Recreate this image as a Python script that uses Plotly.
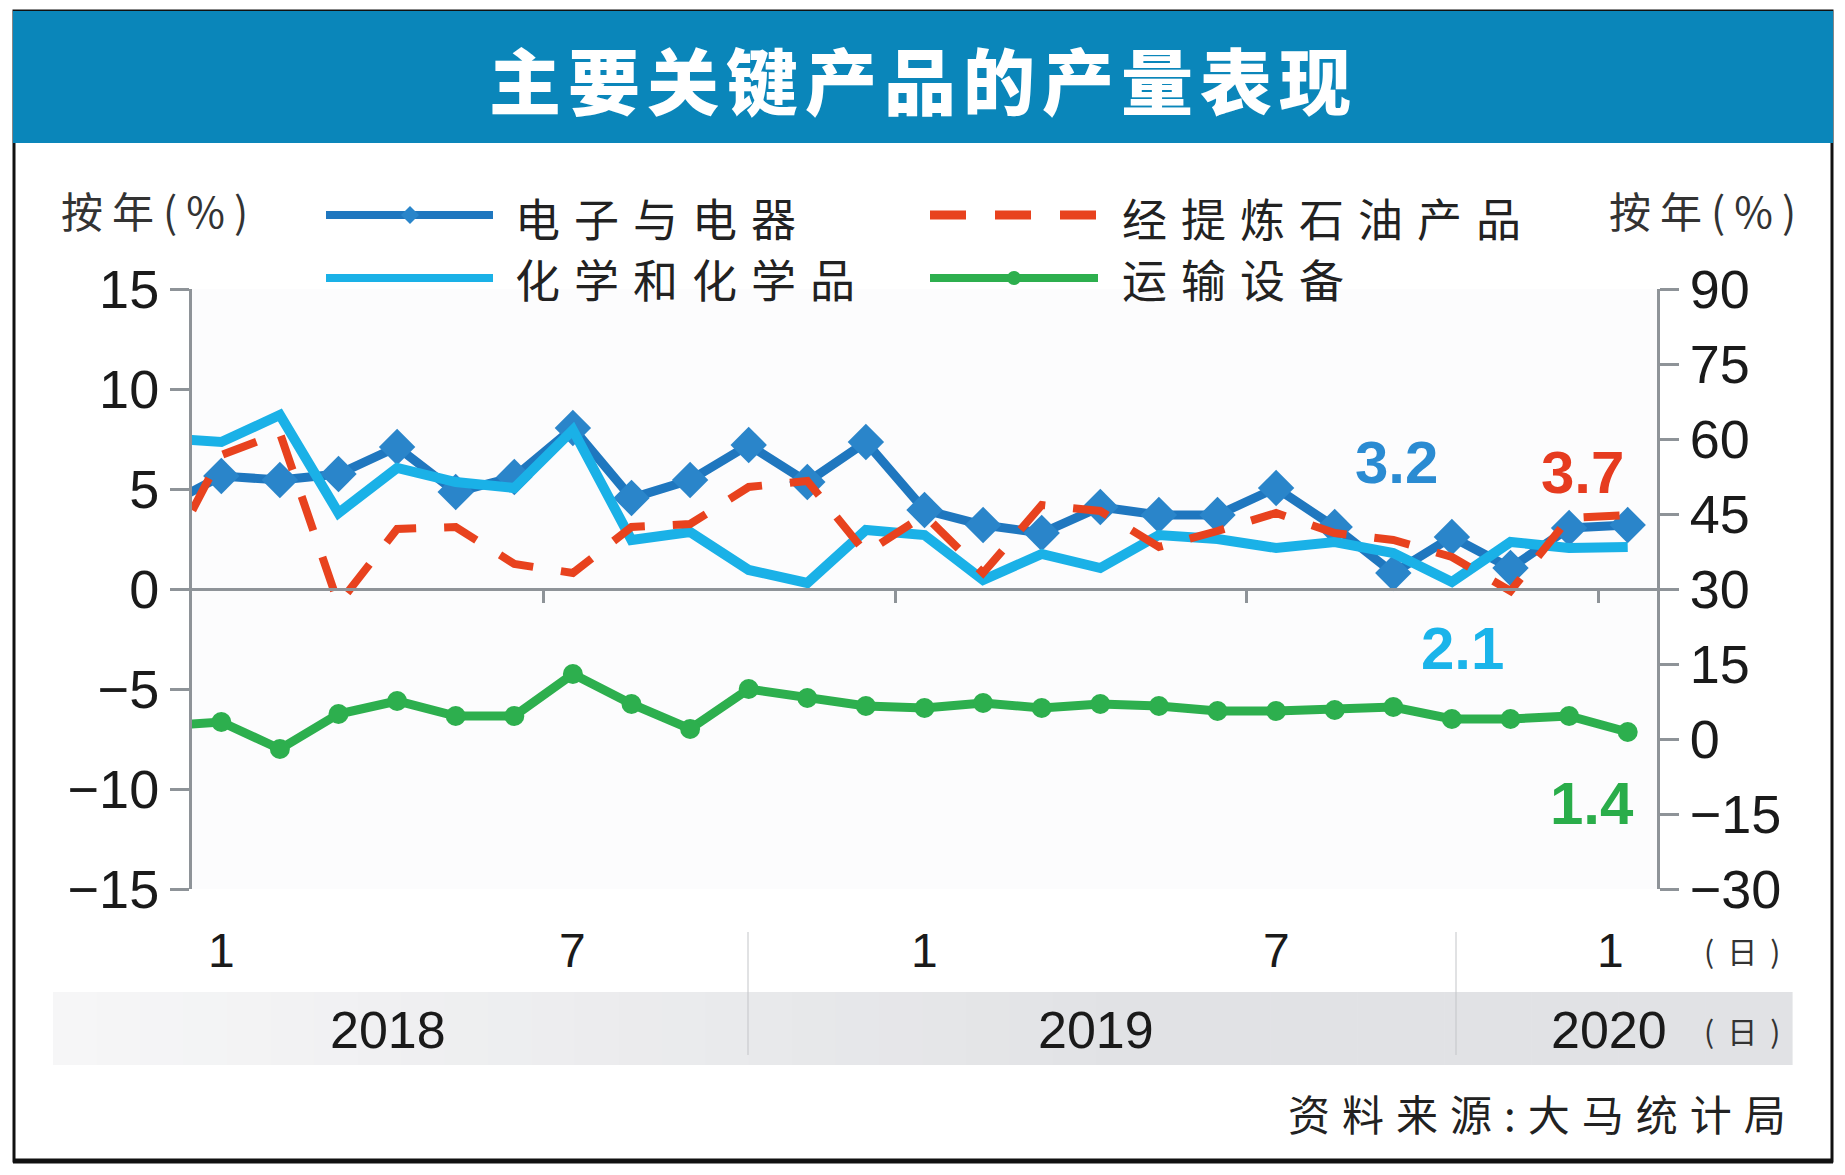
import plotly.graph_objects as go

# ---------------- data ----------------
# month index: -1 = Dec 2017 (clipped at the left edge), 0 = Jan 2018 ... 24 = Jan 2020
month_idx = list(range(-1, 25))
electronics = [4.1, 5.65, 5.45, 5.75, 7.1, 4.85, 5.6, 8.05, 4.55, 5.45, 7.2, 5.35, 7.35,
               3.95, 3.2, 2.8, 4.1, 3.7, 3.7, 5.05, 3.1, 0.8, 2.6, 1.05, 3.05, 3.2]
chemicals = [7.55, 7.35, 8.7, 3.8, 6.05, 5.35, 5.05, 7.95, 2.45, 2.85, 0.95, 0.3, 2.95,
             2.7, 0.45, 1.75, 1.05, 2.7, 2.5, 2.05, 2.35, 1.8, 0.35, 2.35, 2.05, 2.1]
petroleum = [1.1, 6.7, 7.8, -0.75, 3.0, 3.1, 1.25, 0.8, 3.1, 3.25, 5.1, 5.4, 1.8,
             3.7, 0.8, 4.2, 3.9, 2.1, 2.9, 3.8, 2.8, 2.45, 1.6, -0.1, 3.55, 3.7]
transport = [2.6, 3.4, -2.0, 5.0, 7.6, 4.6, 4.6, 13.0, 7.0, 2.0, 10.0, 8.2, 6.6,
             6.2, 7.2, 6.2, 7.0, 6.6, 5.6, 5.6, 5.8, 6.4, 4.0, 4.0, 4.6, 1.4]

series_names = ["电子与电器", "化学和化学品", "经提炼石油产品", "运输设备"]
end_labels = ["3.2", "2.1", "3.7", "1.4"]
month_tick_pos = [0, 6, 12, 18, 23.7]
month_tick_text = ["1", "7", "1", "7", "1"]
half_year_ticks = [5.5, 11.5, 17.5, 23.5]
years = ["2018", "2019", "2020"]
left_ticks = [-15, -10, -5, 0, 5, 10, 15]
right_ticks = [-30, -15, 0, 15, 30, 45, 60, 75, 90]
title_text = "主要关键产品的产量表现"
unit_text = "按年(%)"
month_unit = "(日)"
source_text = "资料来源:大马统计局"

# ---------------- styling ----------------
OFF = 8  # browser body margin
W_FIG, H_FIG = 1845 - OFF, 1175 - OFF
# plot area in window pixel coordinates
L, R, T, B = 192, 1657, 289, 889
PW, PH = R - L, B - T

C_ELEC = "#1f77bf"
C_ELEC_M = "#2a85ca"
C_CHEM = "#1ab1e7"
C_PETRO = "#e8421e"
C_TRANS = "#2daf4e"
C_AXIS = "#8e9398"
NUM_FONT = "Liberation Sans, Arial"
CJK_FONT = "Noto Sans CJK SC"


def px(X):
    return (X - L) / PW


def py(Y):
    return (B - Y) / PH


def spaced(text, ls):
    return f'<span style="letter-spacing:{ls}px">{text}</span>'


fig = go.Figure()
fig.add_trace(go.Scatter(x=month_idx, y=electronics, mode="lines+markers", name=series_names[0],
                         line=dict(color=C_ELEC, width=9),
                         marker=dict(symbol="diamond", size=28, color=C_ELEC_M),
                         showlegend=False))
fig.add_trace(go.Scatter(x=month_idx, y=chemicals, mode="lines", name=series_names[1],
                         line=dict(color=C_CHEM, width=10), showlegend=False))
fig.add_trace(go.Scatter(x=month_idx, y=petroleum, mode="lines", name=series_names[2],
                         line=dict(color=C_PETRO, width=8, dash="36px,28px"), showlegend=False))
fig.add_trace(go.Scatter(x=month_idx, y=transport, mode="lines+markers", name=series_names[3],
                         yaxis="y2", line=dict(color=C_TRANS, width=9),
                         marker=dict(symbol="circle", size=20, color=C_TRANS),
                         showlegend=False))

shapes = []
# frame and title bar
shapes.append(dict(type="rect", xref="paper", yref="paper", x0=px(14), x1=px(1832), y0=py(11), y1=py(1161),
                   line=dict(color="#111111", width=3), fillcolor="rgba(0,0,0,0)", layer="below"))
shapes.append(dict(type="line", xref="paper", yref="paper", x0=px(13), x1=px(1833), y0=py(1161), y1=py(1161),
                   line=dict(color="#111111", width=5)))
shapes.append(dict(type="rect", xref="paper", yref="paper", x0=px(13), x1=px(1833), y0=py(11), y1=py(143),
                   line=dict(width=0), fillcolor="#0a86ba", layer="below"))
# year band gradient
n_strips = 40
bx0, bx1 = 53, 1792
for i in range(n_strips):
    t = i / (n_strips - 1)
    g0 = (246, 246, 247)
    g1 = (225, 226, 229)
    c = tuple(int(round(g0[k] + (g1[k] - g0[k]) * min(1, t * 1.6))) for k in range(3))
    xa = bx0 + (bx1 - bx0) * i / n_strips
    xb = bx0 + (bx1 - bx0) * (i + 1) / n_strips + 0.6
    shapes.append(dict(type="rect", xref="paper", yref="paper", x0=px(xa), x1=px(xb), y0=py(992), y1=py(1065),
                       line=dict(width=0), fillcolor=f"rgb{c}", layer="below"))
for sx in (748, 1456):
    shapes.append(dict(type="line", xref="paper", yref="paper", x0=px(sx), x1=px(sx), y0=py(932), y1=py(1055),
                       line=dict(color="#c3c5c8", width=1)))
# legend samples
shapes.append(dict(type="line", xref="paper", yref="paper", x0=px(326), x1=px(493), y0=py(215), y1=py(215),
                   line=dict(color=C_ELEC, width=8)))
d = 9
shapes.append(dict(type="path", xref="paper", yref="paper",
                   path=f"M {px(410)} {py(215 - d)} L {px(410 + d)} {py(215)} L {px(410)} {py(215 + d)} L {px(410 - d)} {py(215)} Z",
                   fillcolor=C_ELEC_M, line=dict(width=0)))
shapes.append(dict(type="line", xref="paper", yref="paper", x0=px(326), x1=px(493), y0=py(278), y1=py(278),
                   line=dict(color=C_CHEM, width=8)))
shapes.append(dict(type="line", xref="paper", yref="paper", x0=px(930), x1=px(1098), y0=py(215), y1=py(215),
                   line=dict(color=C_PETRO, width=9, dash="36px,29px")))
shapes.append(dict(type="line", xref="paper", yref="paper", x0=px(930), x1=px(1098), y0=py(278), y1=py(278),
                   line=dict(color=C_TRANS, width=8)))
r = 7
shapes.append(dict(type="circle", xref="paper", yref="paper", x0=px(1014 - r), x1=px(1014 + r),
                   y0=py(278 + r), y1=py(278 - r), fillcolor=C_TRANS, line=dict(width=0)))

ann = []
# title
ann.append(dict(text=spaced(title_text, 7), x=px(923), y=py(77), xref="paper", yref="paper",
                showarrow=False, xanchor="center", yanchor="middle",
                font=dict(family=CJK_FONT, size=72, color="white", weight=900)))
# axis units
ann.append(dict(text=spaced(unit_text, 9), x=px(59), y=py(209), xref="paper", yref="paper", showarrow=False,
                xanchor="left", yanchor="middle", font=dict(family=CJK_FONT, size=42, color="#333333")))
ann.append(dict(text=spaced(unit_text, 9), x=px(1607), y=py(209), xref="paper", yref="paper", showarrow=False,
                xanchor="left", yanchor="middle", font=dict(family=CJK_FONT, size=42, color="#333333")))
# legend text
leg_pos = [(513, 218), (513, 278), (1120, 218), (1120, 278)]
for name, (lx, ly) in zip(series_names, leg_pos):
    ann.append(dict(text=spaced(name, 14), x=px(lx), y=py(ly), xref="paper", yref="paper", showarrow=False,
                    xanchor="left", yanchor="middle", font=dict(family=CJK_FONT, size=45, color="#222222")))
# month labels
for pos, txt in zip(month_tick_pos, month_tick_text):
    ann.append(dict(text=txt, x=pos, y=py(950), xref="x", yref="paper", showarrow=False,
                    xanchor="center", yanchor="middle", font=dict(family=NUM_FONT, size=48, color="#1a1a1a")))
ann.append(dict(text=spaced(month_unit, 13), x=px(1748), y=py(950), xref="paper", yref="paper", showarrow=False,
                xanchor="center", yanchor="middle", font=dict(family=CJK_FONT, size=30, color="#333333")))
# year labels
for yr, xc in zip(years, (388, 1096, 1609)):
    ann.append(dict(text=yr, x=px(xc), y=py(1030), xref="paper", yref="paper", showarrow=False,
                    xanchor="center", yanchor="middle", font=dict(family=NUM_FONT, size=52, color="#1a1a1a")))
ann.append(dict(text=spaced(month_unit, 13), x=px(1748), y=py(1030), xref="paper", yref="paper", showarrow=False,
                xanchor="center", yanchor="middle", font=dict(family=CJK_FONT, size=30, color="#333333")))
# source
ann.append(dict(text=spaced(source_text, 12), x=px(1800), y=py(1112), xref="paper", yref="paper", showarrow=False,
                xanchor="right", yanchor="middle", font=dict(family=CJK_FONT, size=42, color="#222222")))
# end value labels
val_pos = [(1396, 462, "#2a8bd2"), (1462, 648, "#1ab4ea"), (1582, 472, "#e63b1f"), (1592, 803, "#2aad4a")]
for txt, (vx, vy, col) in zip(end_labels, val_pos):
    ann.append(dict(text=f"<b>{txt}</b>", x=px(vx), y=py(vy), xref="paper", yref="paper", showarrow=False,
                    xanchor="center", yanchor="middle",
                    font=dict(family="Liberation Sans, Arial", size=60, color=col)))

fig.update_layout(
    width=W_FIG, height=H_FIG,
    margin=dict(l=L - OFF, r=W_FIG - (R - OFF), t=T - OFF, b=H_FIG - (B - OFF), pad=0),
    paper_bgcolor="white", plot_bgcolor="#fcfcfd",
    showlegend=False,
    xaxis=dict(range=[-0.5, 24.5], anchor="free", position=0.5, showline=True, linecolor=C_AXIS, linewidth=3,
               ticks="outside", tickvals=half_year_ticks, ticklen=12, tickwidth=3, tickcolor=C_AXIS,
               showticklabels=False, showgrid=False, zeroline=False),
    yaxis=dict(range=[-15, 15], tickvals=left_ticks, showline=True, linecolor=C_AXIS, linewidth=3,
               ticks="outside", ticklen=19, tickwidth=3, tickcolor=C_AXIS, showgrid=False, zeroline=False,
               tickfont=dict(family=NUM_FONT, size=54, color="#1a1a1a")),
    yaxis2=dict(range=[-30, 90], tickvals=right_ticks, overlaying="y", side="right", showline=True,
                linecolor=C_AXIS, linewidth=3, ticks="outside", ticklen=19, tickwidth=3, tickcolor=C_AXIS,
                showgrid=False, zeroline=False,
                tickfont=dict(family=NUM_FONT, size=54, color="#1a1a1a")),
    shapes=shapes,
    annotations=ann,
)

fig.write_html("out.html")
